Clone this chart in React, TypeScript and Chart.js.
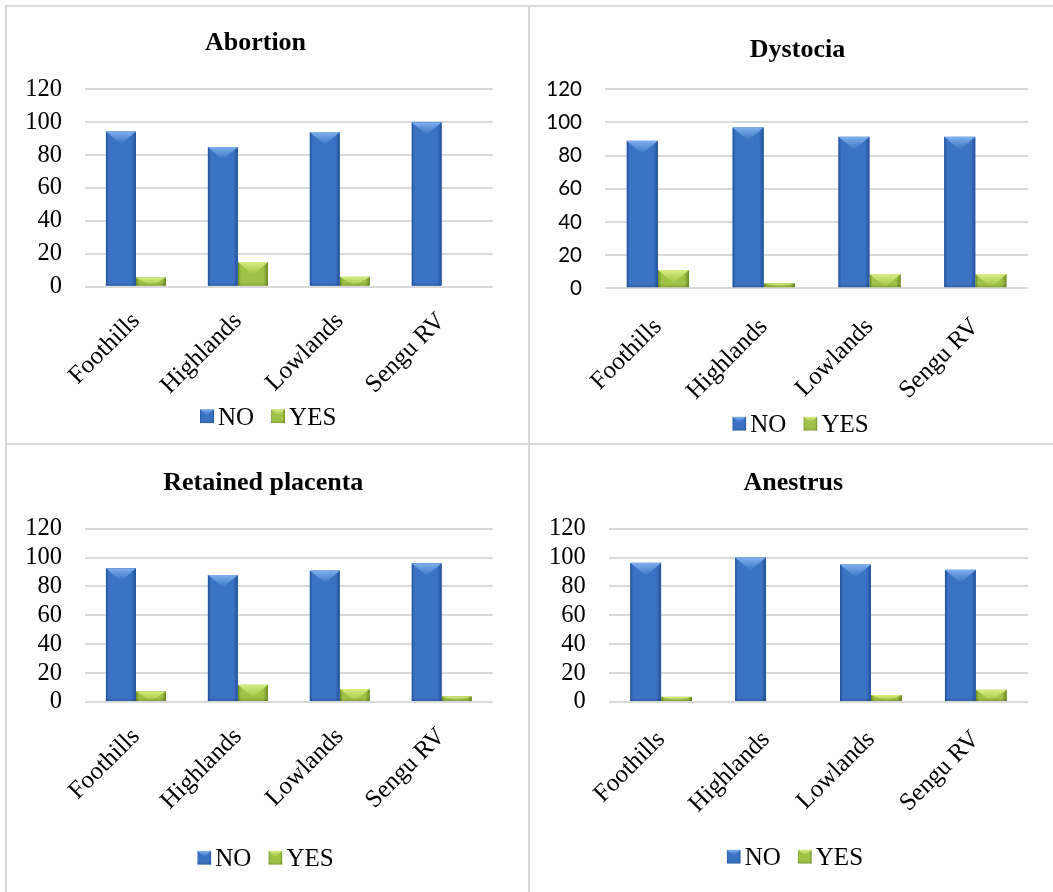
import React, { useEffect, useRef } from 'react';
import { Chart, registerables } from 'chart.js';

Chart.register(...registerables);

// ---- data ----
const REGIONS = ['Foothills', 'Highlands', 'Lowlands', 'Sengu RV'];
const SERIES_NAMES = ['NO', 'YES'];
const Y_TICKS = [0, 20, 40, 60, 80, 100, 120];

const ABORTION_NO = [94.4, 85, 94, 100];
const ABORTION_YES = [5.6, 15, 6, 0];

const DYSTOCIA_NO = [89, 97, 91.4, 91.4];
const DYSTOCIA_YES = [11, 3, 8.6, 8.6];

const PLACENTA_NO = [92.6, 88, 91, 96];
const PLACENTA_YES = [7.4, 12, 9, 4];

const ANESTRUS_NO = [96.4, 100, 95.2, 91.6];
const ANESTRUS_YES = [3.6, 0, 4.8, 8.4];

// ---- styling ----
const SERIF = '"Liberation Serif", "Times New Roman", Times, serif';
const SANS = 'Lato, "Open Sans", sans-serif';
const GRID = '#d9d9d9';

const TONES = [
  { base: '#3a73c4', dark: '#23519a', light: '#7fb1ef' },
  { base: '#9fc246', dark: '#6b8a24', light: '#d6ee80' },
];

type Box = { left: number; top: number; width: number; height: number };
type Area = { left: number; top: number; right: number; below: number };

type PanelCfg = {
  title: string;
  no: number[];
  yes: number[];
  yFont: { family: string; size: number };
  box: Box;
  area: Area;
  xPad: number;
  titleX: number;
  titleBaseline: number;
  legendX: number;
  legendY: number;
};

const PANELS: PanelCfg[] = [
  {
    title: 'Abortion', no: ABORTION_NO, yes: ABORTION_YES,
    yFont: { family: SERIF, size: 24.5 },
    box: { left: 7, top: 7, width: 521, height: 436 },
    area: { left: 78, top: 82.3, right: 35.3, below: 156.3 },
    xPad: 12,
    titleX: 248.5, titleBaseline: 43, legendX: 193, legendY: 409.3,
  },
  {
    title: 'Dystocia', no: DYSTOCIA_NO, yes: DYSTOCIA_YES,
    yFont: { family: SANS, size: 20.5 },
    box: { left: 530, top: 7, width: 523, height: 436 },
    area: { left: 75, top: 82.3, right: 24.7, below: 154.7 },
    xPad: 16,
    titleX: 267.5, titleBaseline: 50.3, legendX: 202.3, legendY: 416.7,
  },
  {
    title: 'Retained placenta', no: PLACENTA_NO, yes: PLACENTA_YES,
    yFont: { family: SERIF, size: 24.5 },
    box: { left: 7, top: 445, width: 521, height: 447 },
    area: { left: 78, top: 83.7, right: 35.3, below: 190 },
    xPad: 12,
    titleX: 256.3, titleBaseline: 45, legendX: 190.3, legendY: 412.8,
  },
  {
    title: 'Anestrus', no: ANESTRUS_NO, yes: ANESTRUS_YES,
    yFont: { family: SERIF, size: 24.5 },
    box: { left: 530, top: 445, width: 523, height: 447 },
    area: { left: 78.7, top: 83.7, right: 24.7, below: 190 },
    xPad: 15,
    titleX: 263.3, titleBaseline: 45, legendX: 196.7, legendY: 411.7,
  },
];

// Beveled fill for a bar or legend swatch
function drawBevel(
  ctx: CanvasRenderingContext2D,
  l: number, t: number, w: number, h: number,
  tone: { base: string; dark: string; light: string }
) {
  if (h <= 0.5 || w <= 0) return;
  ctx.save();
  ctx.beginPath();
  ctx.rect(l, t, w, h);
  ctx.clip();
  const g = ctx.createLinearGradient(l, 0, l + w, 0);
  g.addColorStop(0, tone.dark);
  g.addColorStop(0.1, tone.base);
  g.addColorStop(0.85, tone.base);
  g.addColorStop(1, tone.dark);
  ctx.fillStyle = g;
  ctx.fillRect(l, t, w, h);
  const d = Math.min(w * 0.42, h);
  ctx.beginPath();
  ctx.moveTo(l, t);
  ctx.lineTo(l + w, t);
  ctx.lineTo(l + w / 2, t + d);
  ctx.closePath();
  const tg = ctx.createLinearGradient(0, t, 0, t + d);
  tg.addColorStop(0, tone.light);
  tg.addColorStop(1, tone.base);
  ctx.fillStyle = tg;
  ctx.fill();
  const bg = ctx.createLinearGradient(0, t + h - 3, 0, t + h);
  bg.addColorStop(0, 'rgba(0,0,0,0)');
  bg.addColorStop(1, 'rgba(0,0,0,0.18)');
  ctx.fillStyle = bg;
  ctx.fillRect(l, t + h - 3, w, 3);
  ctx.restore();
}

const bevelPlugin = {
  id: 'bevelBars',
  afterDatasetsDraw(chart: any) {
    const ctx = chart.ctx as CanvasRenderingContext2D;
    chart.data.datasets.forEach((_ds: any, di: number) => {
      const meta = chart.getDatasetMeta(di);
      meta.data.forEach((el: any) => {
        const { x, y, base, width } = el.getProps(['x', 'y', 'base', 'width'], true);
        drawBevel(ctx, x - width / 2, y, width, base - y, TONES[di]);
      });
    });
  },
};

const panelTextPlugin = {
  id: 'panelText',
  afterDraw(chart: any, _args: any, opts: any) {
    const ctx = chart.ctx as CanvasRenderingContext2D;
    ctx.save();
    ctx.fillStyle = '#000';
    ctx.textBaseline = 'alphabetic';
    ctx.textAlign = 'center';
    ctx.font = `bold 26px ${SERIF}`;
    ctx.fillText(opts.title, opts.titleX, opts.titleBaseline);

    ctx.textAlign = 'left';
    ctx.font = `25px ${SERIF}`;
    const box = 14;
    let x = opts.legendX;
    chart.data.datasets.forEach((ds: any, i: number) => {
      drawBevel(ctx, x, opts.legendY - box / 2, box, box, TONES[i]);
      x += box + 4;
      ctx.fillStyle = '#000';
      ctx.fillText(ds.label, x, opts.legendY + 8.3);
      x += ctx.measureText(ds.label).width + 17;
    });
    ctx.restore();
  },
};

function Panel({ cfg }: { cfg: PanelCfg }) {
  const ref = useRef<HTMLCanvasElement>(null);

  useEffect(() => {
    if (!ref.current) return;
    const chart = new Chart(ref.current, {
      type: 'bar',
      data: {
        labels: REGIONS,
        datasets: [
          { label: SERIES_NAMES[0], data: cfg.no, backgroundColor: TONES[0].base, borderWidth: 0 },
          { label: SERIES_NAMES[1], data: cfg.yes, backgroundColor: TONES[1].base, borderWidth: 0 },
        ],
      },
      options: {
        responsive: false,
        animation: false,
        devicePixelRatio: 1,
        layout: { padding: { left: 0, top: cfg.area.top, right: cfg.area.right, bottom: 0 } },
        datasets: { bar: { categoryPercentage: 0.59, barPercentage: 1 } },
        scales: {
          x: {
            grid: { display: false },
            border: { display: false },
            ticks: {
              autoSkip: false,
              minRotation: 45,
              maxRotation: 45,
              padding: cfg.xPad,
              color: '#000',
              font: { family: SERIF, size: 25 },
            },
            afterFit: (s: any) => { s.height = cfg.area.below; },
          },
          y: {
            min: 0,
            max: 120,
            afterBuildTicks: (s: any) => { s.ticks = Y_TICKS.map((v) => ({ value: v })); },
            ticks: { autoSkip: false, padding: 23, color: '#000', font: cfg.yFont },
            grid: { color: GRID, lineWidth: 2, drawTicks: false },
            border: { display: false },
            afterFit: (s: any) => { s.width = cfg.area.left; },
          },
        },
        plugins: {
          legend: { display: false },
          title: { display: false },
          tooltip: { enabled: false },
          panelText: {
            title: cfg.title,
            titleX: cfg.titleX,
            titleBaseline: cfg.titleBaseline,
            legendX: cfg.legendX,
            legendY: cfg.legendY,
          },
        } as any,
      },
      plugins: [bevelPlugin, panelTextPlugin],
    });
    return () => chart.destroy();
  }, [cfg]);

  return (
    <canvas
      ref={ref}
      width={cfg.box.width}
      height={cfg.box.height}
      style={{ position: 'absolute', left: cfg.box.left, top: cfg.box.top, width: cfg.box.width, height: cfg.box.height }}
    />
  );
}

export default function App() {
  const line = (style: React.CSSProperties) => (
    <div style={{ position: 'absolute', background: GRID, ...style }} />
  );
  return (
    <div style={{ position: 'absolute', left: 0, top: 0, width: 1053, height: 892, background: '#fff', overflow: 'hidden' }}>
      {line({ left: 5, top: 5, width: 2, height: 887 })}
      {line({ left: 5, top: 5, width: 1048, height: 2 })}
      {line({ left: 528, top: 5, width: 2, height: 887 })}
      {line({ left: 5, top: 443, width: 1048, height: 2 })}
      {PANELS.map((p) => (
        <Panel key={p.title} cfg={p} />
      ))}
    </div>
  );
}
